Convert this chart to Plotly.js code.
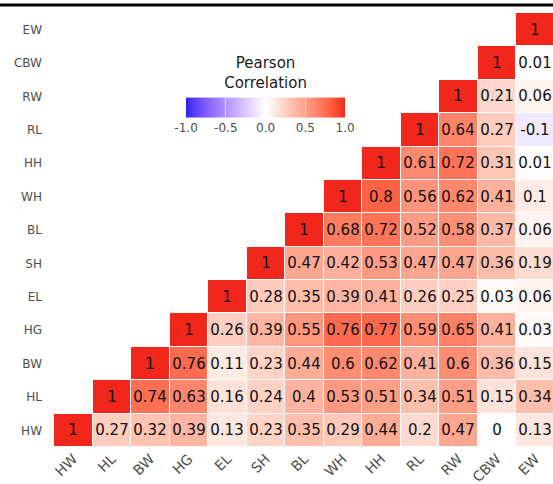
<!DOCTYPE html>
<html>
<head>
<meta charset="utf-8">
<script src="https://cdn.plot.ly/plotly-3.0.1.min.js"></script>
<style>
  html, body { margin: 0; padding: 0; background: #fff; }
  #chart { width: 553px; height: 484px; }
</style>
</head>
<body>
<div id="chart"></div>
<script>
// Variables (x: left->right, y: bottom->top)
const vars = ['HW','HL','BW','HG','EL','SH','BL','WH','HH','RL','RW','CBW','EW'];

// Upper-triangle Pearson correlations, one row per y variable (null = not drawn)
const rowHW  = [1, 0.27, 0.32, 0.39, 0.13, 0.23, 0.35, 0.29, 0.44, 0.2, 0.47, 0, 0.13];
const rowHL  = [null, 1, 0.74, 0.63, 0.16, 0.24, 0.4, 0.53, 0.51, 0.34, 0.51, 0.15, 0.34];
const rowBW  = [null, null, 1, 0.76, 0.11, 0.23, 0.44, 0.6, 0.62, 0.41, 0.6, 0.36, 0.15];
const rowHG  = [null, null, null, 1, 0.26, 0.39, 0.55, 0.76, 0.77, 0.59, 0.65, 0.41, 0.03];
const rowEL  = [null, null, null, null, 1, 0.28, 0.35, 0.39, 0.41, 0.26, 0.25, 0.03, 0.06];
const rowSH  = [null, null, null, null, null, 1, 0.47, 0.42, 0.53, 0.47, 0.47, 0.36, 0.19];
const rowBL  = [null, null, null, null, null, null, 1, 0.68, 0.72, 0.52, 0.58, 0.37, 0.06];
const rowWH  = [null, null, null, null, null, null, null, 1, 0.8, 0.56, 0.62, 0.41, 0.1];
const rowHH  = [null, null, null, null, null, null, null, null, 1, 0.61, 0.72, 0.31, 0.01];
const rowRL  = [null, null, null, null, null, null, null, null, null, 1, 0.64, 0.27, -0.1];
const rowRW  = [null, null, null, null, null, null, null, null, null, null, 1, 0.21, 0.06];
const rowCBW = [null, null, null, null, null, null, null, null, null, null, null, 1, 0.01];
const rowEW  = [null, null, null, null, null, null, null, null, null, null, null, null, 1];

const colorbarTicks = [-1, -0.5, 0, 0.5, 1];
const colorbarTickText = ['-1.0', '-0.5', '0.0', '0.5', '1.0'];

const z = [rowHW, rowHL, rowBW, rowHG, rowEL, rowSH, rowBL, rowWH, rowHH, rowRL, rowRW, rowCBW, rowEW];
const text = z.map(r => r.map(v => v === null ? '' : String(v)));

// Diverging gradient interpolated in CIELAB (like ggplot's gradient2)
function hexToRgb(h){ return [1,3,5].map(i => parseInt(h.substr(i,2),16)/255); }
function lin(c){ return c <= 0.04045 ? c/12.92 : Math.pow((c+0.055)/1.055, 2.4); }
function unlin(c){ return c <= 0.0031308 ? 12.92*c : 1.055*Math.pow(c, 1/2.4) - 0.055; }
function rgbToLab(rgb){
  const [r,g,b] = rgb.map(lin);
  let X = (0.4124*r + 0.3576*g + 0.1805*b)/0.95047;
  let Y = (0.2126*r + 0.7152*g + 0.0722*b)/1.0;
  let Z = (0.0193*r + 0.1192*g + 0.9505*b)/1.08883;
  const f = t => t > 0.008856 ? Math.cbrt(t) : 7.787*t + 16/116;
  const fx=f(X), fy=f(Y), fz=f(Z);
  return [116*fy-16, 500*(fx-fy), 200*(fy-fz)];
}
function labToRgb(lab){
  const [L,a,b] = lab;
  const fy=(L+16)/116, fx=fy+a/500, fz=fy-b/200;
  const fi = t => t*t*t > 0.008856 ? t*t*t : (t-16/116)/7.787;
  const X=fi(fx)*0.95047, Y=fi(fy), Z=fi(fz)*1.08883;
  let r= 3.2406*X -1.5372*Y -0.4986*Z;
  let g=-0.9689*X +1.8758*Y +0.0415*Z;
  let bb=0.0557*X -0.2040*Y +1.0570*Z;
  return [r,g,bb].map(c => Math.round(Math.max(0, Math.min(1, unlin(c)))*255));
}
const lowLab = rgbToLab(hexToRgb('#2B24F2'));
const midLab = rgbToLab(hexToRgb('#FFFFFF'));
const highLab = rgbToLab(hexToRgb('#F1271B'));
const colorscale = [];
const N = 20;
for (let i = 0; i <= 2*N; i++) {
  const t = i/(2*N);
  let a, b, u;
  if (i <= N) { a = lowLab; b = midLab; u = i/N; } else { a = midLab; b = highLab; u = (i-N)/N; }
  const lab = [0,1,2].map(k => a[k] + (b[k]-a[k])*u);
  const rgb = labToRgb(lab);
  colorscale.push([t, `rgb(${rgb[0]},${rgb[1]},${rgb[2]})`]);
}

const FONT = 'DejaVu Sans, Liberation Sans, Arial, sans-serif';

const trace = {
  type: 'heatmap',
  x: vars,
  y: vars,
  z: z,
  text: text,
  texttemplate: '%{text}',
  textfont: { family: FONT, size: 15, color: '#111111' },
  zmin: -1, zmax: 1,
  colorscale: colorscale,
  xgap: 1, ygap: 1,
  hoverongaps: false,
  colorbar: {
    orientation: 'h',
    x: 0.424, xanchor: 'center',
    y: 0.782, yanchor: 'middle',
    len: 179, lenmode: 'pixels',
    thickness: 20,
    outlinewidth: 0,
    tickvals: colorbarTicks,
    ticktext: colorbarTickText,
    ticks: 'inside', ticklen: 20, tickcolor: 'rgba(255,255,255,0.6)', tickwidth: 1,
    tickfont: { family: FONT, size: 12, color: '#4d4d4d' },
    title: { text: 'Pearson<br>Correlation', side: 'top',
             font: { family: FONT, size: 15, color: '#1a1a1a' } },
    bgcolor: 'rgba(0,0,0,0)'
  }
};

const layout = {
  width: 553, height: 484,
  margin: { l: 54, r: 0, t: 13, b: 37 },
  paper_bgcolor: '#ffffff',
  plot_bgcolor: '#ffffff',
  font: { family: FONT },
  xaxis: {
    type: 'category',
    range: [-0.5, 12.46],
    showgrid: false, zeroline: false, showline: false,
    ticks: '', tickangle: -45,
    tickfont: { family: FONT, size: 14, color: '#4d4d4d' },
    fixedrange: true
  },
  yaxis: {
    type: 'category',
    range: [-0.5, 12.5],
    showgrid: false, zeroline: false, showline: false,
    ticks: '', ticklabelstandoff: 11,
    tickfont: { family: FONT, size: 12, color: '#4d4d4d' },
    fixedrange: true
  },
  shapes: [{
    type: 'line', xref: 'paper', yref: 'paper',
    x0: -0.12, x1: 1.0, y0: 1.0184, y1: 1.0184,
    line: { color: '#000000', width: 3 }
  }],
  showlegend: false
};

Plotly.newPlot('chart', [trace], layout, { displayModeBar: false, staticPlot: true });
</script>
</body>
</html>
